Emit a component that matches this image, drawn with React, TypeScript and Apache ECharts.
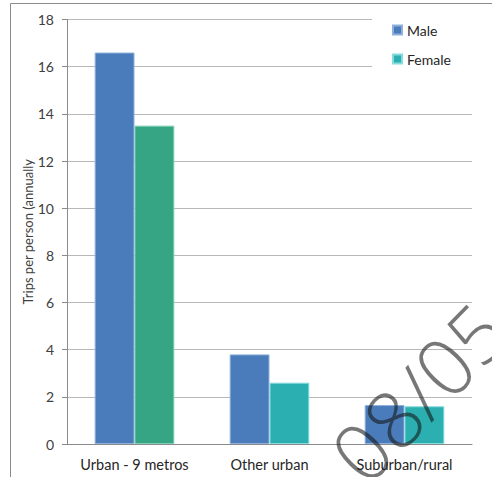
import React, { useEffect, useRef } from "react";
import * as echarts from "echarts";

const categories = ["Urban - 9 metros", "Other urban", "Suburban/rural"];
const maleValues = [16.6, 3.8, 1.65];
const femaleValues = [13.5, 2.6, 1.6];
const yTicks = { min: 0, max: 18, interval: 2 };
const yName = "Trips per person (annually";
const watermark = "08/05";

const MALE = "#4A7CBB";
const TEAL = "#2BAFB0";
const GREEN = "#35A584";
const FONT = "Lato, 'Open Sans', sans-serif";

export default function App() {
  const ref = useRef<HTMLDivElement>(null);
  useEffect(() => {
    document.body.style.margin = "0";
    const chart = echarts.init(ref.current!, null, { renderer: "svg" });
    chart.setOption({
      animation: false,
      backgroundColor: "#ffffff",
      textStyle: { fontFamily: FONT },
      grid: { left: 67, right: 20, top: 19.5, bottom: 33, containLabel: false },
      legend: {
        orient: "vertical",
        left: 372,
        top: 12,
        width: 103,
        backgroundColor: "#ffffff",
        padding: [11, 36, 8, 20],
        itemWidth: 9,
        itemHeight: 9,
        itemGap: 15,
        icon: "rect",
        textStyle: { fontSize: 14, color: "#262626", fontFamily: FONT },
        data: ["Male", "Female"],
      },
      xAxis: {
        type: "category",
        data: categories,
        axisLine: { lineStyle: { color: "#8a8a8a", width: 1 } },
        axisTick: { show: false },
        axisLabel: { interval: 0, fontSize: 14.5, color: "#262626", margin: 13, fontFamily: FONT },
      },
      yAxis: {
        type: "value",
        min: yTicks.min,
        max: yTicks.max,
        interval: yTicks.interval,
        name: yName,
        nameLocation: "middle",
        nameGap: 33,
        nameMoveOverlap: false,
        nameTextStyle: { fontSize: 13, color: "#404040", fontFamily: FONT },
        axisLine: { show: true, lineStyle: { color: "#8a8a8a", width: 1 } },
        axisTick: { show: true, length: 5, lineStyle: { color: "#8a8a8a" } },
        axisLabel: { fontSize: 14, color: "#404040", margin: 13, fontFamily: FONT },
        splitLine: { show: true, lineStyle: { color: "#b8b8b8", width: 1 } },
      },
      series: [
        {
          name: "Male",
          type: "bar",
          data: maleValues,
          barGap: "0%",
          barCategoryGap: "41%",
          itemStyle: { color: MALE, borderColor: "#8fb0dc", borderWidth: 1 },
        },
        {
          name: "Female",
          type: "bar",
          data: femaleValues.map((v, i) =>
            i === 0
              ? { value: v, itemStyle: { color: GREEN, borderColor: "#7fcfb5" } }
              : v
          ),
          itemStyle: { color: TEAL, borderColor: "#86dcdc", borderWidth: 1 },
        },
      ],
      graphic: [
        {
          type: "rect",
          z: 100,
          shape: { x: 10.5, y: 3.5, width: 700, height: 700 },
          style: { fill: "none", stroke: "#8c8c8c", lineWidth: 1 },
          silent: true,
        },
        {
          type: "text",
          z: 100,
          x: 418,
          y: 392,
          rotation: 0.8,
          silent: true,
          style: {
            text: watermark,
            fontSize: 80,
            fontFamily: "'Open Sans', sans-serif",
            fontWeight: 300,
            fill: "rgba(20,20,20,0.58)",
            align: "center",
            verticalAlign: "middle",
          },
        },
      ],
    });
    return () => chart.dispose();
  }, []);
  return <div ref={ref} style={{ width: 492, height: 477 }} />;
}
